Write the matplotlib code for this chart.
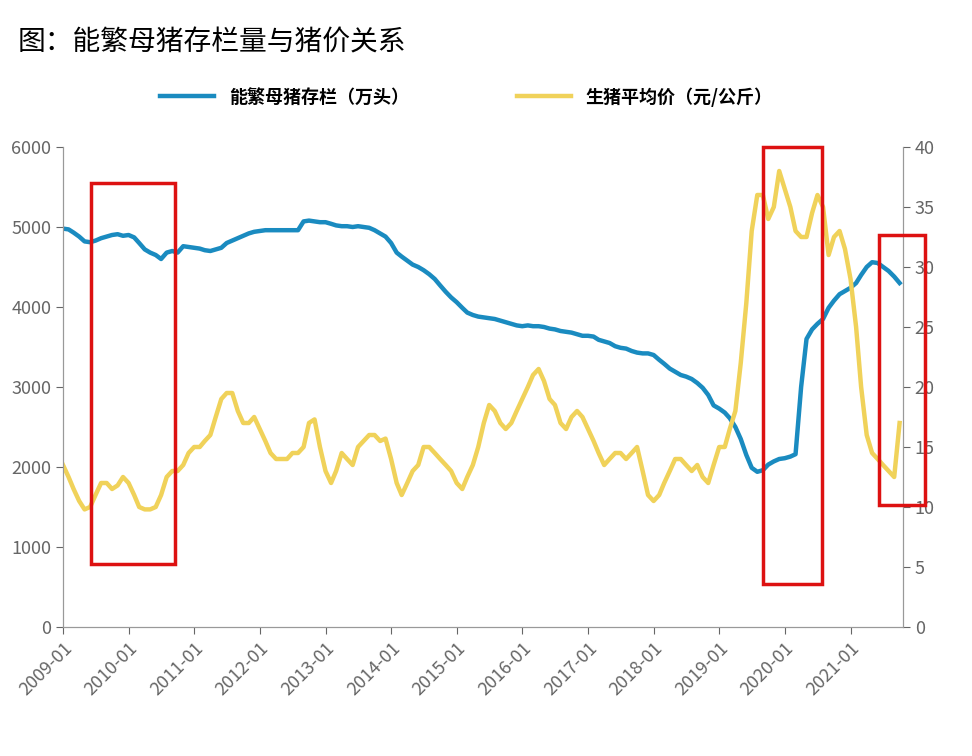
import matplotlib
matplotlib.use("Agg")
import matplotlib.pyplot as plt
from matplotlib.patches import Rectangle
import pandas as pd

plt.rcParams["font.family"] = ["Noto Sans CJK SC", "DejaVu Sans"]

sows = [4980,4970,4930,4880,4820,4810,4830,4860,4880,4900,4910,4890,
        4900,4870,4800,4720,4680,4650,4600,4680,4700,4680,4760,4750,
        4740,4730,4710,4700,4720,4740,4800,4830,4860,4890,4920,4940,
        4950,4960,4960,4960,4960,4960,4960,4960,5070,5080,5070,5060,
        5060,5040,5020,5010,5010,5000,5010,5000,4990,4960,4920,4880,
        4800,4680,4630,4580,4530,4500,4460,4410,4350,4270,4190,4120,
        4060,3990,3930,3900,3880,3870,3860,3850,3830,3810,3790,3770,
        3760,3770,3760,3760,3750,3730,3720,3700,3690,3680,3660,3640,
        3640,3630,3590,3570,3550,3510,3490,3480,3450,3430,3420,3420,
        3400,3340,3290,3230,3190,3150,3130,3100,3050,2990,2900,2770,
        2730,2680,2610,2500,2350,2150,1990,1940,1960,2030,2070,2100,
        2110,2130,2160,3000,3600,3720,3790,3850,3990,4080,4160,4200,
        4240,4300,4400,4500,4560,4550,4500,4450,4380,4300]
price = [13.5,12.5,11.5,10.5,9.8,10.0,11.0,12.0,12.0,11.5,11.8,12.5,
         12.0,11.0,10.0,9.8,9.8,10.0,11.0,12.5,13.0,13.0,13.5,14.5,
         15.0,15.0,15.5,16.0,17.5,19.0,19.5,19.5,18.0,17.0,17.0,17.5,
         16.5,15.5,14.5,14.0,14.0,14.0,14.5,14.5,15.0,17.0,17.3,15.0,
         13.0,12.0,13.0,14.5,14.0,13.5,15.0,15.5,16.0,16.0,15.5,15.7,
         14.0,12.0,11.0,12.0,13.0,13.5,15.0,15.0,14.5,14.0,13.5,13.0,
         12.0,11.5,12.5,13.5,15.0,17.0,18.5,18.0,17.0,16.5,17.0,18.0,
         19.0,20.0,21.0,21.5,20.5,19.0,18.5,17.0,16.5,17.5,18.0,17.5,
         16.5,15.5,14.5,13.5,14.0,14.5,14.5,14.0,14.5,15.0,13.0,11.0,
         10.5,11.0,12.0,13.0,14.0,14.0,13.5,13.0,13.5,12.5,12.0,13.5,
         15.0,15.0,16.5,18.0,22.0,27.0,33.0,36.0,36.0,34.0,35.0,38.0,
         36.5,35.0,33.0,32.5,32.5,34.5,36.0,35.0,31.0,32.5,33.0,31.5,
         29.0,25.0,20.0,16.0,14.5,14.0,13.5,13.0,12.5,17.0]
dates = pd.date_range("2009-01-01", periods=len(sows), freq="MS")
tick_years = list(range(2009, 2022))

fig = plt.figure(figsize=(9.72, 7.56), dpi=100)
ax = fig.add_axes([63/972, 1-627/756, 840/972, 480/756])
ax2 = ax.twinx()
l1, = ax.plot(dates, sows, color="#1a8bc0", lw=3.2, label="能繁母猪存栏（万头）")
l2, = ax2.plot(dates, price, color="#f0d25a", lw=3.2, label="生猪平均价（元/公斤）")
ax.set_ylim(0, 6000); ax2.set_ylim(0, 40)
ax.set_yticks(range(0, 6001, 1000)); ax2.set_yticks(range(0, 41, 5))
ax.set_xlim(pd.Timestamp("2009-01-01"), pd.Timestamp("2021-10-20"))
ax.set_xticks([pd.Timestamp(f"{y}-01-01") for y in tick_years])
ax.set_xticklabels([f"{y}-01" for y in tick_years], rotation=45, ha="right", rotation_mode="anchor")
for a in (ax, ax2):
    a.spines["top"].set_visible(False)
    for s in ("left", "right", "bottom"):
        a.spines[s].set_color("#999999")
    a.tick_params(colors="#666666", labelsize=13, direction="out", length=5)
fig.text(18/972, 1-42/756, "图：能繁母猪存栏量与猪价关系", fontsize=20, va="center", fontweight="medium")
fig.legend(handles=[l1, l2], loc="center", bbox_to_anchor=(0.48, 1-97/756), ncol=2,
           frameon=False, prop={"size": 13, "weight": "bold"}, handlelength=3, columnspacing=6)
for (x0, y0, x1, y1) in [(91,183,175,564), (763,147,822,584), (879,235,925,505)]:
    fig.patches.append(Rectangle((x0/972, 1-y1/756), (x1-x0)/972, (y1-y0)/756,
                                 transform=fig.transFigure, fill=False, ec="#dd1111", lw=2.5))
fig.savefig("out.png", dpi=100)
